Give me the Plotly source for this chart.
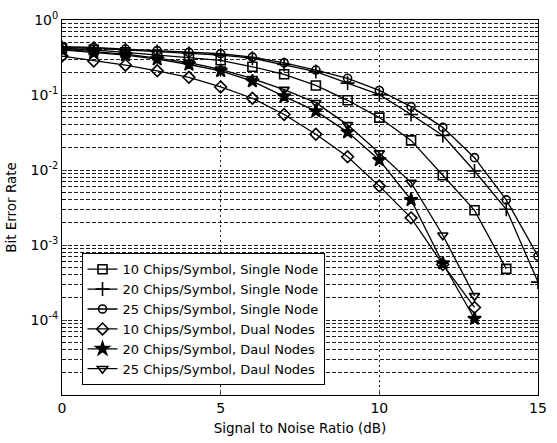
import plotly.graph_objects as go

snr = list(range(0, 16))

ber_10_single = [0.42, 0.40, 0.37, 0.34, 0.31, 0.29, 0.238, 0.189, 0.134, 0.085, 0.050, 0.0248, 0.0085, 0.0029, 0.00048]
ber_20_single = [0.43, 0.42, 0.40, 0.38, 0.36, 0.34, 0.31, 0.255, 0.205, 0.144, 0.101, 0.055, 0.0288, 0.0097, 0.0030, 0.00032]
ber_25_single = [0.44, 0.43, 0.41, 0.39, 0.37, 0.355, 0.32, 0.268, 0.215, 0.167, 0.115, 0.070, 0.037, 0.0146, 0.0040, 0.00071]
ber_10_dual = [0.33, 0.284, 0.25, 0.21, 0.172, 0.128, 0.0905, 0.055, 0.030, 0.015, 0.0061, 0.0023, 0.00055, 0.000147]
ber_20_dual = [0.40, 0.37, 0.34, 0.30, 0.255, 0.21, 0.153, 0.096, 0.061, 0.032, 0.0136, 0.0040, 0.00057, 0.000104]
ber_25_dual = [0.41, 0.38, 0.35, 0.31, 0.27, 0.22, 0.165, 0.118, 0.079, 0.040, 0.0168, 0.0068, 0.00135, 0.00021]

names = [
    "10 Chips/Symbol, Single Node",
    "20 Chips/Symbol, Single Node",
    "25 Chips/Symbol, Single Node",
    "10 Chips/Symbol, Dual Nodes",
    "20 Chips/Symbol, Daul Nodes",
    "25 Chips/Symbol, Daul Nodes",
]
series = [ber_10_single, ber_20_single, ber_25_single, ber_10_dual, ber_20_dual, ber_25_dual]
symbols = ["square-open", "cross-thin-open", "circle-open", "diamond-open", "star", "triangle-down-open"]
sizes = [9, 10, 8, 9, 10, 9]

y_tickvals = [1e0, 1e-1, 1e-2, 1e-3, 1e-4]
y_ticktext = ["10<sup>0</sup>", "10<sup>-1</sup>", "10<sup>-2</sup>", "10<sup>-3</sup>", "10<sup>-4</sup>"]
x_tickvals = [0, 5, 10, 15]

fig = go.Figure()
for name, ys, sym, sz in zip(names, series, symbols, sizes):
    fig.add_trace(go.Scatter(
        x=snr[:len(ys)], y=ys, name=name, mode="lines+markers",
        line=dict(color="black", width=1.3),
        marker=dict(symbol=sym, size=sz, color="black",
                    line=dict(color="black", width=1.6)),
    ))

grid_col = "#222222"
fig.update_layout(
    width=557, height=443,
    margin=dict(l=62, r=10, t=19, b=42),
    paper_bgcolor="white", plot_bgcolor="white",
    font=dict(family="DejaVu Sans, Arial, sans-serif", size=13, color="black"),
    showlegend=True,
    legend=dict(x=0.041, y=0.026, xanchor="left", yanchor="bottom",
                bgcolor="white", bordercolor="black", borderwidth=1,
                font=dict(size=13), tracegroupgap=0, itemwidth=30),
    xaxis=dict(
        range=[0, 15], tickvals=x_tickvals, ticks="inside", ticklen=5,
        showline=True, linecolor="black", linewidth=1, mirror="ticks",
        showgrid=True, gridcolor=grid_col, griddash="2px,3px", gridwidth=1,
        zeroline=False, tickfont=dict(size=14),
        title=dict(text="Signal to Noise Ratio (dB)", standoff=8, font=dict(size=13.5)),
    ),
    yaxis=dict(
        type="log", range=[-5, 0], tickvals=y_tickvals, ticktext=y_ticktext,
        ticks="inside", ticklen=5,
        showline=True, linecolor="black", linewidth=1, mirror="ticks",
        showgrid=True, gridcolor=grid_col, griddash="4px,2px", gridwidth=1,
        zeroline=False, tickfont=dict(size=14),
        minor=dict(dtick="D1", showgrid=True, gridcolor=grid_col, griddash="4px,2px",
                   gridwidth=1, ticks="inside", ticklen=3, tickcolor="black"),
        title=dict(text="Bit Error Rate", standoff=10, font=dict(size=13.5)),
    ),
)

fig.write_html("out.html")
